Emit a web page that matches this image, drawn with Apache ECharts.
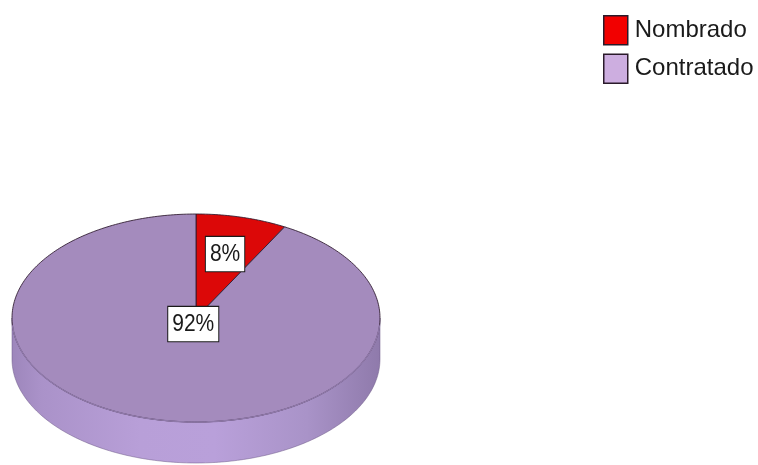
<!DOCTYPE html>
<html>
<head>
<meta charset="utf-8">
<script src="https://cdn.jsdelivr.net/npm/echarts@6/dist/echarts.min.js"></script>
<style>
  html, body { margin: 0; padding: 0; background: #ffffff; }
  #chart { width: 758px; height: 465px; }
</style>
</head>
<body>
<div id="chart"></div>
<script>
// Staff by contract type (share of total)
const categories = ['Nombrado', 'Contratado'];
const values = [8, 92];

// Colours: top face, legend swatch
const topColors = ['#dc0808', '#a48bbd'];
const swatchColors = ['#f20000', '#cdaee0'];

// Pseudo-3D pie geometry (pixels) and label placement (fraction of radius)
const PIE = { cx: 196, cy: 318, rx: 184, ry: 104, depth: 41 };
const LABEL_RADIUS = [0.635, 0.06];
const LABEL_STRETCH = 1.18;

const total = values.reduce((a, b) => a + b, 0);

function startAngle(i) {
  let s = 0;
  for (let k = 0; k < i; k++) s += values[k];
  return s / total * 360;
}

// clock angle (deg, 0 = 12 o'clock, clockwise) -> point on the ellipse
function pt(deg, dz, frac) {
  const f = frac == null ? 1 : frac;
  const r = deg * Math.PI / 180;
  return [PIE.cx + PIE.rx * f * Math.sin(r), PIE.cy - PIE.ry * f * Math.cos(r) + dz];
}

function arc(a0, a1, dz) {
  const pts = [];
  const n = Math.max(2, Math.ceil(Math.abs(a1 - a0)));
  for (let k = 0; k <= n; k++) pts.push(pt(a0 + (a1 - a0) * k / n, dz));
  return pts;
}

function renderSlice(params, api) {
  const i = params.seriesIndex;
  const a0 = startAngle(i);
  const a1 = a0 + api.value(0) / total * 360;
  const children = [];

  // side wall: only the front half (90..270 deg) is visible
  const s0 = Math.max(a0, 90), s1 = Math.min(a1, 270);
  if (s1 > s0) {
    const top = arc(s0, s1, 0);
    const bottom = arc(s1, s0, PIE.depth);
    children.push({
      type: 'polygon',
      shape: { points: top.concat(bottom) },
      style: {
        fill: new echarts.graphic.LinearGradient(0, 0, 1, 0, [
          { offset: 0, color: '#9d86bb' },
          { offset: 0.08, color: '#aa92c9' },
          { offset: 0.35, color: '#b89fd8' },
          { offset: 0.55, color: '#b9a0da' },
          { offset: 0.8, color: '#a993c8' },
          { offset: 1, color: '#8f7aab' }
        ]),
        stroke: 'rgba(110,90,135,0.5)',
        lineWidth: 1
      },
      z2: 1
    });
  }

  // top face
  children.push({
    type: 'polygon',
    shape: { points: [[PIE.cx, PIE.cy]].concat(arc(a0, a1, 0)) },
    style: { fill: topColors[i], stroke: 'rgba(45,25,45,0.85)', lineWidth: 1 },
    z2: 5
  });

  // soften the outline where the top face meets the side wall
  if (s1 > s0) {
    children.push({
      type: 'polyline',
      shape: { points: arc(s0 + 4, s1 - 4, 0) },
      style: { stroke: '#8f79a9', lineWidth: 1.4, fill: null },
      z2: 6
    });
  }

  // percentage label in a white box
  const mid = (a0 + a1) / 2;
  const p = pt(mid, 0, LABEL_RADIUS[i]);
  children.push({
    type: 'text',
    x: p[0],
    y: p[1],
    scaleY: LABEL_STRETCH,
    style: {
      text: Math.round(api.value(0) / total * 100) + '%',
      x: 0,
      y: 0,
      align: 'center',
      verticalAlign: 'middle',
      font: '21px "Liberation Sans", Arial, sans-serif',
      lineHeight: 21,
      fill: '#1a1a1a',
      backgroundColor: '#ffffff',
      borderColor: '#1a1a1a',
      borderWidth: 1,
      padding: [4, 4]
    },
    z2: 100
  });

  return { type: 'group', children: children };
}

const chart = echarts.init(document.getElementById('chart'), null, { renderer: 'canvas' });

chart.setOption({
  backgroundColor: '#ffffff',
  animation: false,
  legend: {
    orient: 'vertical',
    left: 603,
    top: 15,
    padding: 0,
    itemWidth: 24,
    itemHeight: 29,
    itemGap: 8,
    icon: 'rect',
    textStyle: {
      fontFamily: '"Liberation Sans", Arial, sans-serif',
      fontSize: 24,
      color: '#1a1a1a',
      padding: [5, 0, 0, 2]
    },
    data: categories.map((name, i) => ({
      name: name,
      itemStyle: { color: swatchColors[i], borderColor: '#2a1a2a', borderWidth: 1.5 }
    }))
  },
  series: categories.map((name, i) => ({
    type: 'custom',
    name: name,
    coordinateSystem: 'none',
    itemStyle: { color: swatchColors[i] },
    data: [values[i]],
    renderItem: renderSlice
  }))
});
</script>
</body>
</html>
